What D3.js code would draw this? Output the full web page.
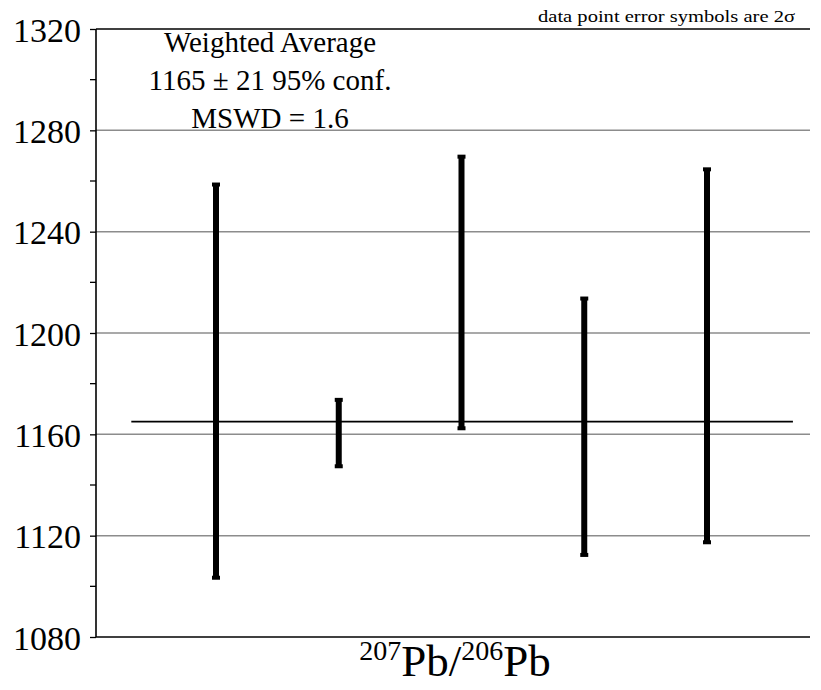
<!DOCTYPE html>
<html>
<head>
<meta charset="utf-8">
<script src="https://cdn.jsdelivr.net/npm/d3@7/dist/d3.min.js"></script>
<style>
  body { margin: 0; background: #fff; }
  svg { display: block; }
  text { font-family: "Liberation Serif", serif; }
</style>
</head>
<body>
<svg id="chart" width="821" height="690"></svg>
<script>
// ages (Ma) for each spot, 2 sigma bounds
const spots = [1, 2, 3, 4, 5];
const upper = [1259, 1174, 1270, 1214, 1265];
const lower = [1103, 1147, 1162, 1112, 1117];
const majorTicks = [1080, 1120, 1160, 1200, 1240, 1280, 1320];
const minorTicks = [1100, 1140, 1180, 1220, 1260, 1300];
const meanAge = 1165;
const meanSpan = [0.31, 5.7];
const infoLines = ["Weighted Average", "1165 \u00b1 21 95% conf.", "MSWD = 1.6"];

const serif = "Liberation Serif, serif";
const svg = d3.select("#chart");
const plotLeft = 96, plotRight = 810, plotTop = 29, plotBottom = 637;

const y = d3.scaleLinear().domain([1080, 1320]).range([plotBottom, plotTop]);
const x = d3.scaleLinear().domain([1, 5]).range([216, 707]);

// grid
svg.append("g").selectAll("line").data(majorTicks.slice(1, -1)).enter().append("line")
    .attr("x1", plotLeft).attr("x2", plotRight)
    .attr("y1", d => y(d)).attr("y2", d => y(d))
    .attr("stroke", "#8c8c8c").attr("stroke-width", 1.5);

// frame lines
svg.append("line").attr("x1", plotLeft).attr("x2", plotRight).attr("y1", plotTop).attr("y2", plotTop)
    .attr("stroke", "#000").attr("stroke-width", 1.6);
svg.append("line").attr("x1", plotLeft).attr("x2", plotRight).attr("y1", plotBottom).attr("y2", plotBottom)
    .attr("stroke", "#000").attr("stroke-width", 1.6);

// y axis
const yAxis = svg.append("g").attr("transform", `translate(${plotLeft},0)`)
    .call(d3.axisLeft(y).tickValues(majorTicks).tickSize(6).tickPadding(9).tickFormat(d3.format("d")));
yAxis.attr("font-family", serif);
yAxis.select(".domain").attr("stroke-width", 1.6).attr("d", `M0,${plotTop}V${plotBottom}`);
yAxis.selectAll(".tick line").attr("stroke-width", 1.3);
yAxis.selectAll(".tick text")
    .style("font-family", serif)
    .style("font-size", "34px")
    .attr("dy", "0.36em");

svg.append("g").selectAll("line").data(minorTicks).enter().append("line")
    .attr("x1", plotLeft - 6).attr("x2", plotLeft)
    .attr("y1", d => y(d)).attr("y2", d => y(d))
    .attr("stroke", "#000").attr("stroke-width", 1.3);

// weighted mean line
svg.append("line")
    .attr("x1", x(meanSpan[0])).attr("x2", x(meanSpan[1]))
    .attr("y1", y(meanAge)).attr("y2", y(meanAge))
    .attr("stroke", "#000").attr("stroke-width", 1.8);

// error bars
const bars = svg.append("g").selectAll("g").data(spots).enter().append("g");
bars.append("line")
    .attr("x1", d => x(d)).attr("x2", d => x(d))
    .attr("y1", (d, i) => y(upper[i])).attr("y2", (d, i) => y(lower[i]))
    .attr("stroke", "#000").attr("stroke-width", 6);
bars.append("rect")
    .attr("x", d => x(d) - 4).attr("width", 8)
    .attr("y", (d, i) => y(upper[i]) - 1).attr("height", 4)
    .attr("fill", "#000");
bars.append("rect")
    .attr("x", d => x(d) - 4).attr("width", 8)
    .attr("y", (d, i) => y(lower[i]) - 3).attr("height", 4)
    .attr("fill", "#000");

// info box text
svg.append("g").selectAll("text").data(infoLines).enter().append("text")
    .attr("x", 270).attr("y", (d, i) => 52 + i * 38)
    .attr("text-anchor", "middle")
    .style("font-family", serif)
    .style("font-size", "29px")
    .text(d => d);

// note is drawn wide in the original
svg.append("text")
    .attr("x", 538).attr("y", 22)
    .attr("textLength", 257).attr("lengthAdjust", "spacingAndGlyphs")
    .style("font-family", serif)
    .style("font-size", "16px")
    .text("data point error symbols are 2\u03c3");

// x label
const xl = svg.append("text")
    .attr("x", 455).attr("y", 676)
    .attr("text-anchor", "middle")
    .style("font-family", serif)
    .style("font-size", "45px");
xl.append("tspan").attr("baseline-shift", "16px").style("font-size", "28px").text("207");
xl.append("tspan").text("Pb/");
xl.append("tspan").attr("baseline-shift", "16px").style("font-size", "28px").text("206");
xl.append("tspan").text("Pb");
</script>
</body>
</html>
